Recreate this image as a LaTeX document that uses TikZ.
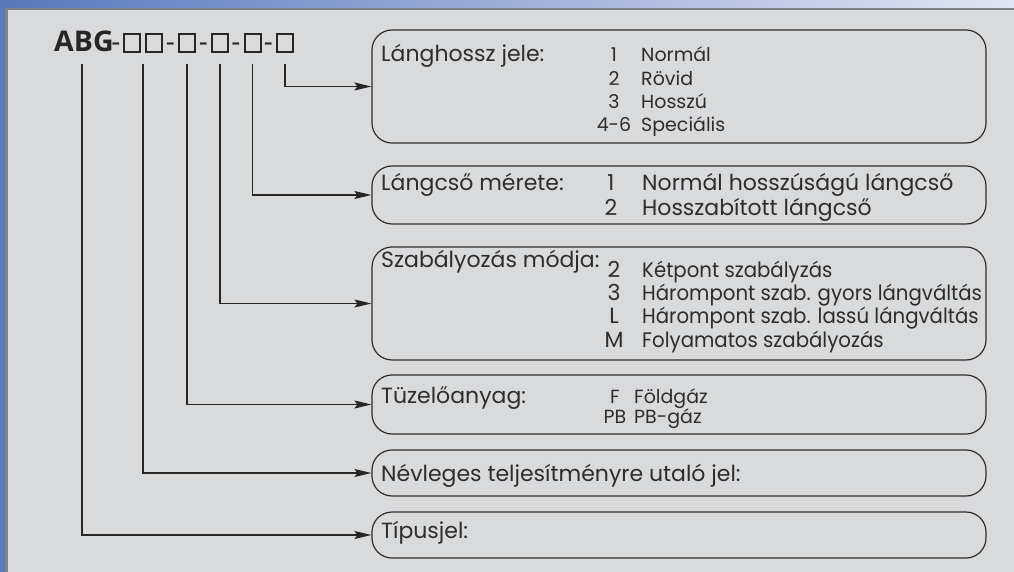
\documentclass[tikz,border=0pt]{standalone}
\usepackage{fontspec}
\setmainfont{Poppins}
\newfontfamily\titlefont{Open Sans}
\newfontfamily\narrowfont{Poppins}[FakeStretch=0.94]
\usetikzlibrary{arrows.meta,calc}
\definecolor{panelgray}{RGB}{217,218,220}
\definecolor{rimgray}{RGB}{128,130,136}
\definecolor{barblue}{RGB}{88,120,190}
\definecolor{barlight}{RGB}{224,229,244}
\definecolor{inkgray}{RGB}{45,45,45}
\tikzstyle{conn} = [line width=1.3pt,color=black!85,-{Stealth[length=17pt,width=8pt,inset=3pt]}]
\tikzstyle{codebox} = [draw=inkgray,line width=1.2pt,rounded corners=20pt,minimum width=614pt]
\tikzstyle{slot} = [draw=black!85,line width=2pt,minimum width=16pt,minimum height=18pt,inner sep=0pt]
\tikzstyle{hyph} = [anchor=base,inner sep=0pt,font=\titlefont\fontsize{28}{30}\selectfont,text=black!85]
\tikzstyle{lbl} = [anchor=base west,inner sep=0pt,font=\fontsize{22}{24}\selectfont,text=inkgray]
\tikzstyle{num} = [anchor=base,inner sep=0pt,font=\fontsize{22}{24}\selectfont,text=inkgray]
\tikzstyle{item} = [anchor=base west,inner sep=0pt,font=\fontsize{22}{24}\selectfont,text=inkgray]
\tikzstyle{itemnw} = [item,font=\narrowfont\fontsize{21}{23}\selectfont]
\tikzstyle{numsm} = [num,font=\fontsize{19}{21}\selectfont]
\tikzstyle{itemsm} = [item,font=\fontsize{19}{21}\selectfont]

\begin{document}
\begin{tikzpicture}[x=1pt,y=-1pt]
\useasboundingbox (0,0) rectangle (1014,572);
% Frame
\fill[panelgray] (0,0) rectangle (1014,572);
\shade[left color=barblue,right color=barlight] (0,0) rectangle (1014,8);
\fill[barblue] (0,0) rectangle (5,572);
\fill[rimgray] (5,8) rectangle (1014,10.5);
\fill[rimgray] (5,8) rectangle (7.5,572);

% Type code
\node[anchor=base west,inner sep=0pt,font=\titlefont\bfseries\fontsize{28.5}{30}\selectfont,text=black!85] (abg) at (54,52) {ABG};
\node[hyph] (d0) at (116,52) {-};
\node[slot] (q1) at (132,43) {};
\node[slot] (q2) at (154,43) {};
\node[hyph] (d1) at (170.5,52) {-};
\node[slot] (q3) at (187,43) {};
\node[hyph] (d2) at (203.5,52) {-};
\node[slot] (q4) at (220,43) {};
\node[hyph] (d3) at (236,52) {-};
\node[slot] (q5) at (252.5,43) {};
\node[hyph] (d4) at (268.5,52) {-};
\node[slot] (q6) at (285,43) {};
\coordinate (qq) at ($(q1.south)!0.5!(q2.south)$);

% Boxes
\node[codebox,minimum height=113pt] (b1) at (679,86.5) {};
\node[codebox,minimum height=58pt] (b2) at (679,195) {};
\node[codebox,minimum height=113pt] (b3) at (679,303.5) {};
\node[codebox,minimum height=59pt] (b4) at (679,404.5) {};
\node[codebox,minimum height=46pt] (b5) at (679,473) {};
\node[codebox,minimum height=46pt] (b6) at (679,535) {};

% Labels
\node[lbl] (l1) at (381,62) {Lánghossz jele:};
\node[lbl] (l2) at (381,191) {Lángcső mérete:};
\node[lbl] (l3) at (381,267) {Szabályozás módja:};
\node[lbl] (l4) at (381,403) {Tüzelőanyag:};
\node[lbl] (l5) at (381,481) {Névleges teljesítményre utaló jel:};
\node[lbl] (l6) at (381,538) {Típusjel:};

% Options
\node[numsm] (n11) at (614,62) {1};
\node[itemsm] (t11) at (641,62) {Normál};
\node[numsm] (n12) at (614,85.3) {2};
\node[itemsm] (t12) at (641,85.3) {Rövid};
\node[numsm] (n13) at (614,108.6) {3};
\node[itemsm] (t13) at (641,108.6) {Hosszú};
\node[numsm] (n14) at (614,132) {4-6};
\node[itemsm] (t14) at (641,132) {Speciális};

\node[num] (n21) at (611,191) {1};
\node[item] (t21) at (642,191) {Normál hosszúságú lángcső};
\node[num] (n22) at (611,215) {2};
\node[item] (t22) at (642,215) {Hosszabított lángcső};

\node[num] (n31) at (614,277) {2};
\node[itemnw] (t31) at (642,277) {Kétpont szabályzás};
\node[num] (n32) at (614,300) {3};
\node[itemnw] (t32) at (642,300) {Hárompont szab. gyors lángváltás};
\node[num] (n33) at (614,323) {L};
\node[itemnw] (t33) at (642,323) {Hárompont szab. lassú lángváltás};
\node[num] (n34) at (614,347) {M};
\node[itemnw] (t34) at (642,347) {Folyamatos szabályozás};

\node[numsm] (n41) at (615,403) {F};
\node[itemsm] (t41) at (634,403) {Földgáz};
\node[numsm] (n42) at (615,423) {PB};
\node[itemsm] (t42) at (634,423) {PB-gáz};

% Connectors
\draw[conn,shorten <=11pt] (q6.south) |- (b1.west);
\draw[conn,shorten <=11pt] (q5.south) |- (b2.west);
\draw[conn,shorten <=11pt] (q4.south) |- (b3.west);
\draw[conn,shorten <=11pt] (q3.south) |- (b4.west);
\draw[conn,shorten <=11pt] (qq) |- (b5.west);
\draw[conn,shorten <=12pt] ([xshift=-2pt]abg.south) |- (b6.west);
\end{tikzpicture}
\end{document}
